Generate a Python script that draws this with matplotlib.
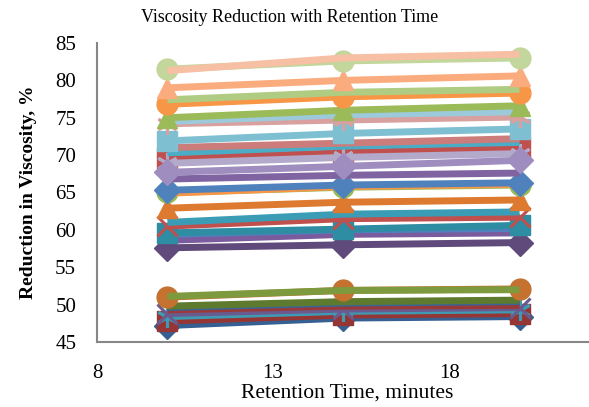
import matplotlib
matplotlib.use("Agg")
import matplotlib.pyplot as plt

# retention time, minutes
time = [10, 15, 20]

# reduction in viscosity (%) per sample at 10/15/20 min
reduction = [
    [47.2, 48.2, 48.4],
    [47.8, 48.6, 48.8],
    [48.4, 49.1, 49.3],
    [48.8, 49.4, 49.6],
    [49.3, 49.8, 49.9],
    [49.6, 50.2, 50.4],
    [49.8, 50.4, 50.6],
    [51.0, 51.9, 52.1],
    [51.1, 51.9, 52.0],
    [57.6, 58.0, 58.3],
    [58.6, 59.4, 59.6],
    [59.4, 60.0, 60.2],
    [59.6, 60.1, 60.6],
    [60.5, 61.5, 61.7],
    [61.0, 62.1, 62.4],
    [62.9, 63.7, 64.0],
    [65.0, 65.7, 66.0],
    [64.9, 65.8, 66.1],
    [65.3, 66.0, 66.3],
    [66.8, 67.3, 67.6],
    [69.6, 70.3, 71.0],
    [68.9, 69.7, 70.2],
    [67.7, 68.5, 69.3],
    [70.3, 71.2, 71.7],
    [71.0, 71.6, 72.2],
    [71.9, 72.9, 73.5],
    [74.2, 74.7, 75.1],
    [74.5, 75.4, 75.8],
    [75.0, 76.0, 76.6],
    [76.8, 77.8, 78.3],
    [77.4, 78.4, 78.8],
    [79.0, 80.0, 80.6],
    [81.5, 82.6, 83.0],
    [81.3, 83.0, 83.5],
]

colors = [
    "#376092", "#963634", "#3E9BB3", "#6A5A8E", "#9A3A38", "#3A6496", "#5E7A2E",
    "#C5712F", "#7D9A3E",
    "#604A7B", "#7A5C9E", "#4F81BD", "#2E8CA3", "#C0504D", "#3A9DB5", "#DD7A30",
    "#9BBB59", "#F79646", "#4F81BD", "#8064A2",
    "#C0504D", "#B3A9CB", "#A08DBF", "#4BACC6", "#CC7C7A", "#7FBFD2",
    "#D9A0A0", "#9DCADB", "#9BBB59", "#F79646", "#B0CB82", "#FAAC7E",
    "#C3D69B", "#F7BFA3",
]

star = (6, 2, 0)
markers = [
    "D", "s", star, "x", None, None, None,
    "o", None,
    "D", None, None, "s", "x", None, "^",
    "o", None, "D", None,
    "s", star, "D", None, None, "s",
    star, None, "^", "o", None, "^",
    "o", None,
]

fig = plt.figure(figsize=(5.89, 4.07), dpi=100)
ax = fig.add_axes([97 / 589, 65 / 407, 500 / 589, 299 / 407])

for vals, c, m in zip(reduction, colors, markers):
    if m is None:
        ax.plot(time, vals, color=c, lw=5, solid_capstyle="butt")
    elif m in ("x", star):
        ax.plot(time, vals, color=c, lw=5, marker=m, ms=15, mew=2.2,
                solid_capstyle="butt")
    else:
        ax.plot(time, vals, color=c, lw=5, marker=m, ms=15 if m != "D" else 13,
                mec=c, mfc=c, solid_capstyle="butt")

ax.set_xlim(8, 22.2)
ax.set_ylim(45, 85)
ax.set_xticks([8, 13, 18])
ax.set_yticks(range(45, 90, 5))

serif = ["Liberation Serif", "DejaVu Serif"]
for lab in ax.get_xticklabels() + ax.get_yticklabels():
    lab.set_family(serif)
    lab.set_fontsize(15)
ax.tick_params(axis="y", length=0, pad=15)
ax.tick_params(axis="x", length=0, pad=16)

for s in ("top", "right"):
    ax.spines[s].set_visible(False)
for s in ("left", "bottom"):
    ax.spines[s].set_color("#868686")
    ax.spines[s].set_linewidth(1.5)

fig.text(290 / 589, 1 - 18 / 407, "Viscosity Reduction with Retention Time",
         ha="center", va="center", family=serif, fontsize=13)
ax.set_xlabel("Retention Time, minutes", family=serif, fontsize=15.5, labelpad=0)
ax.set_ylabel("Reduction in Viscosity, %", family=serif, fontsize=14,
              fontweight="bold", labelpad=13)

fig.savefig("out.png", dpi=100)
